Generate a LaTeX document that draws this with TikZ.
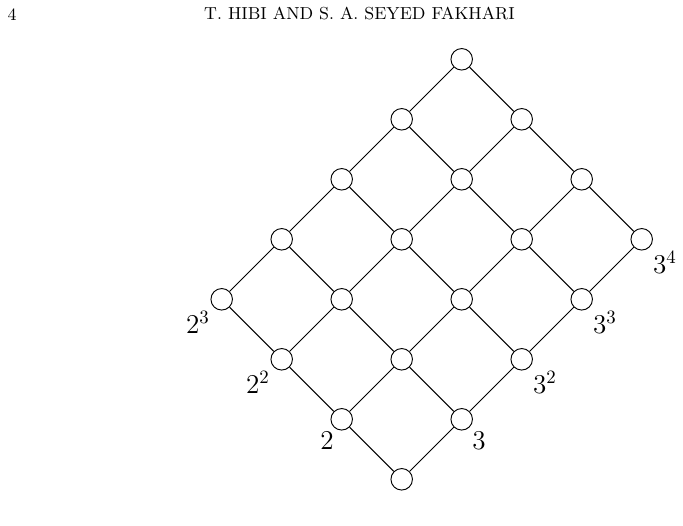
\documentclass[tikz,border=0pt]{standalone}
\usepackage{fontspec}
\usetikzlibrary{positioning,calc}
\newcommand{\headfont}{\fontsize{9.2}{11}\selectfont}
\begin{document}
\begin{tikzpicture}
[x=0.53pt,y=-0.53pt,
vertex/.style={circle,draw=black,line width=0.5pt,minimum size=11.4pt,inner sep=0pt},
edge/.style={line width=0.5pt},
head/.style={font=\headfont,inner sep=0pt},
power/.style={font=\Large,inner sep=0pt}]
\useasboundingbox (0,0) rectangle (683,526);
% running head
\node[head] (page) at (12,14.5) {4};
\node[head] (authors) at (359.5,13) {T. HIBI AND S. A. SEYED FAKHARI};
% divisors 2^i 3^j
\foreach \i in {0,...,3}
  \foreach \j in {0,...,4}
    \node[vertex] (n\i\j) at ({401.7-60*\i+60*\j},{479.3-60*\i-60*\j}) {};
\foreach \i in {0,...,3}
  \foreach \j in {0,...,4} {
    \pgfmathtruncatemacro\ii{\i+1}
    \pgfmathtruncatemacro\jj{\j+1}
    \ifnum\i<3 \draw[edge] (n\i\j) -- (n\ii\j); \fi
    \ifnum\j<4 \draw[edge] (n\i\j) -- (n\i\jj); \fi
  }
% labels
\node[power] (two1) at ($(n10)+(-14.7,21.2)$) {$2$};
\node[power] (two2) at ($(n20)+(-23.7,23.5)$) {$2^2$};
\node[power] (two3) at ($(n30)+(-23.7,23.5)$) {$2^3$};
\node[power] (three1) at ($(n01)+(17.3,21.2)$) {$3$};
\node[power] (three2) at ($(n02)+(23.3,23.5)$) {$3^2$};
\node[power] (three3) at ($(n03)+(23.3,23.5)$) {$3^3$};
\node[power] (three4) at ($(n04)+(23.3,23.5)$) {$3^4$};
\end{tikzpicture}
\end{document}
